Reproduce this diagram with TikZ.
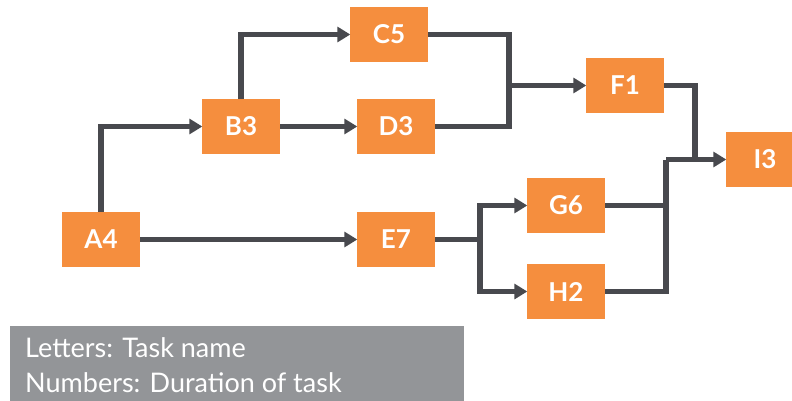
\documentclass[tikz,border=0pt]{standalone}
\usepackage{fontspec}
\setmainfont{Lato}
\usetikzlibrary{arrows.meta}
\definecolor{taskorange}{HTML}{F58E3E}
\definecolor{linegray}{HTML}{48494E}
\definecolor{legendgray}{HTML}{939598}
\begin{document}
\begin{tikzpicture}[x=1pt,y=1pt,
  task/.style={fill=taskorange, minimum width=78pt, minimum height=55pt, inner sep=0pt,
    text=white, font=\fontsize{26}{30}\selectfont\bfseries},
  conn/.style={draw=linegray, line width=5.5pt, line join=miter},
  arr/.style={conn, -{Triangle[length=13pt,width=15pt]}, shorten >=-0.5pt},
  legendtext/.style={anchor=base west, inner sep=0pt, text=white, font=\fontsize{27}{32}\selectfont}
]
\clip (0,0) rectangle (792,-401);
\fill[white] (0,0) rectangle (792,-401);
% tasks
\node[task] (A4) at (101,-239.5) {A4};
\node[task] (B3) at (241,-126.5) {B3};
\node[task] (C5) at (389,-34.5) {C5};
\node[task] (D3) at (396,-126.5) {D3};
\node[task] (E7) at (396,-239.5) {E7};
\node[task] (F1) at (625,-85.5) {F1};
\node[task] (G6) at (566,-205.5) {G6};
\node[task] (H2) at (566,-291.5) {H2};
\node[task] (I3) at (765,-159.5) {I3};
% junctions
\coordinate (jF) at (509,-85.5);
\coordinate (jE) at (480,-239.5);
\coordinate (jG) at (666,-159.5);
\coordinate (jI) at (695,-159.5);
% connectors
\draw[arr] (A4.north) |- (B3.west);
\draw[arr] (B3.north) |- (C5.west);
\draw[arr] (B3.east) -- (D3.west);
\draw[arr] (A4.east) -- (E7.west);
\draw[conn] (C5.east) -| (jF);
\draw[conn] (D3.east) -| (jF);
\draw[arr] (jF) -- (F1.west);
\draw[conn] (E7.east) -- (jE);
\draw[arr] (jE) |- (G6.west);
\draw[arr] (jE) |- (H2.west);
\draw[conn] (F1.east) -| (jI);
\draw[conn] (G6.east) -| (jG);
\draw[conn] (H2.east) -| (jG);
\draw[arr] (jG) -- (I3.west);
% legend
\fill[legendgray] (10,-326) rectangle (464,-401);
\node[legendtext] (L1) at (25,-357) {Letters: Task name};
\node[legendtext] (L2) at (25,-392) {Numbers: Duration of task};
\end{tikzpicture}
\end{document}
